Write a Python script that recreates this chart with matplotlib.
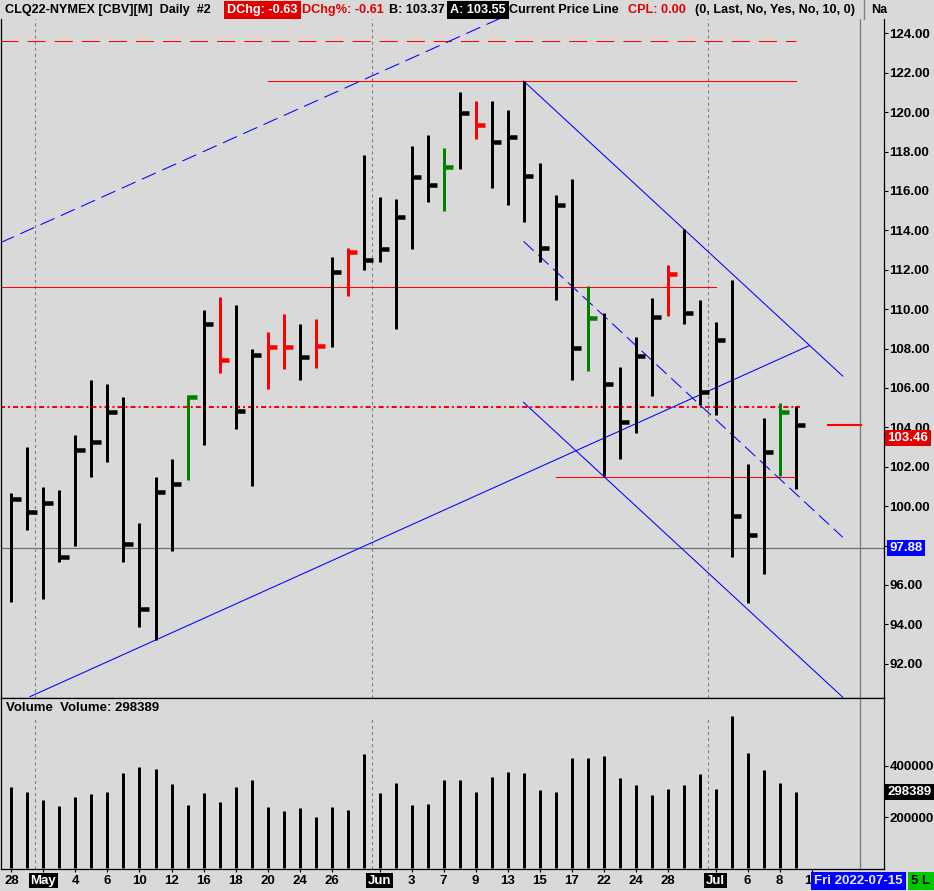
import numpy as np
import matplotlib
matplotlib.use('Agg')
import matplotlib.pyplot as plt
from matplotlib.lines import Line2D

plt.rcParams['font.family'] = ['Liberation Sans', 'DejaVu Sans']
plt.rcParams['font.weight'] = 'bold'
plt.rcParams['lines.scale_dashes'] = False

# daily bars, CLQ22 (high / low / close), 28 Apr .. 11 Jul 2022
highs = [100.65, 102.98, 100.97, 100.82, 103.60, 106.39, 106.18, 105.52, 99.13, 101.48,
         102.38, 105.62, 109.95, 110.61, 110.21, 107.97, 108.84, 109.75, 109.24, 109.50,
         112.64, 113.09, 117.82, 115.69, 115.59, 118.28, 118.84, 118.18, 121.02, 120.56,
         120.56, 120.11, 121.58, 117.42, 115.79, 116.60, 111.17, 109.79, 107.06, 108.58,
         110.56, 112.24, 114.08, 110.46, 109.33, 111.48, 102.12, 104.47, 105.23, 105.08]
lows = [95.15, 98.80, 95.30, 97.15, 98.00, 101.50, 102.25, 97.15, 93.88, 93.20,
        97.70, 101.34, 103.12, 106.77, 103.90, 101.04, 105.96, 106.97, 106.42, 107.03,
        108.09, 110.68, 112.00, 112.41, 109.00, 113.07, 115.45, 115.00, 117.13, 118.65,
        116.16, 115.30, 114.44, 112.41, 110.48, 106.42, 106.87, 101.51, 102.38, 103.70,
        105.60, 109.66, 109.26, 105.12, 104.61, 97.43, 95.10, 96.57, 101.53, 100.88]
closes = [100.35, 99.68, 100.14, 97.40, 102.83, 103.24, 104.76, 98.08, 94.76, 100.70,
          101.10, 105.54, 109.23, 107.42, 104.81, 107.65, 108.06, 108.06, 107.55, 108.11,
          111.87, 112.88, 112.48, 113.04, 114.66, 116.69, 116.28, 117.21, 119.94, 119.33,
          118.48, 118.74, 116.74, 113.09, 115.27, 108.01, 109.53, 106.18, 104.25, 107.60,
          109.58, 111.77, 109.79, 105.81, 108.42, 99.48, 98.52, 102.73, 104.78, 104.10]
volumes = [319000, 299600, 268500, 245000, 280000, 291800, 299600, 373500, 396900, 389000,
           330700, 249000, 295700, 260700, 319000, 346300, 237400, 221800, 233500, 198400,
           241200, 225700, 447500, 295700, 334600, 249000, 252900, 346300, 346300, 299600,
           358000, 377400, 373500, 307400, 299600, 431900, 431900, 439700, 354100, 326800,
           288000, 311300, 326800, 369600, 311300, 595300, 451400, 385200, 334600, 298389]
green_bars = [11, 27, 36, 48]
red_bars = [13, 16, 17, 19, 21, 29, 41]

date_idx = [0, 2, 4, 6, 8, 10, 12, 14, 16, 18, 20, 23, 25, 27, 29, 31, 33, 35, 37, 39, 41, 44, 46, 48, 50]
date_lbl = ['28', 'May', '4', '6', '10', '12', '16', '18', '20', '24', '26', 'Jun', '3', '7', '9',
            '13', '15', '17', '22', '24', '28', 'Jul', '6', '8', '12']
month_breaks = [1.5, 22.5, 43.5]

# drawn trend lines: (bar0, price0, bar1, price1)
trend_dashed_up = [-0.72, 113.36, 30.6, 124.78]
trend_channel_up = [1.16, 90.33, 49.84, 108.14]
trend_down_top = [32, 121.58, 51.95, 106.60]
trend_down_mid = [32, 113.44, 51.95, 98.42]
trend_down_low = [32, 105.27, 51.95, 90.30]

# horizontal levels: (price, bar from, bar to)
lvl_dashed = [123.61, -0.72, 49.0]
lvl_high = [121.60, 16.0, 49.0]
lvl_mid = [111.10, -0.72, 44.0]
lvl_dashdot = [105.03, -0.72, 49.3]
lvl_low = [101.50, 34.0, 49.1]
lvl_last = [104.10, 51.0, 53.1]
cursor_price = 97.88
last_price = 103.46

BG = '#d9d9d9'
W, H = 934, 891
PX = 0.72  # points per pixel
FS = 9.5

def px_box(x0, y0, x1, y1):
    return [x0 / W, 1 - y1 / H, (x1 - x0) / W, (y1 - y0) / H]

fig = plt.figure(figsize=(W / 100, H / 100), dpi=100, facecolor=BG)
ax = fig.add_axes(px_box(1, 19, 884, 698))
axv = fig.add_axes(px_box(1, 698, 884, 868.5), sharex=ax)

x = np.arange(len(highs))
cols = ['black'] * len(highs)
for i in green_bars:
    cols[i] = '#008000'
for i in red_bars:
    cols[i] = '#ff0000'

# price bars
ax.vlines(x, lows, highs, colors=cols, linewidth=3 * PX, capstyle='butt', zorder=4)
ax.hlines(closes, x, x + 0.62, colors=cols, linewidth=4.5 * PX, capstyle='butt', zorder=4)

# grid / levels
for m in month_breaks:
    ax.axvline(m, color='#808080', lw=0.8, dashes=(2.2, 2.2), zorder=1)
    axv.axvline(m, color='#808080', lw=0.8, dashes=(2.2, 2.2), ymax=0.88, zorder=1)
ax.axvline(53.0, color='#808080', lw=1.0, zorder=1)
axv.axvline(53.0, color='#808080', lw=1.0, zorder=1)
ax.axhline(cursor_price, color='#707070', lw=0.9, zorder=1)

ax.plot(lvl_dashed[1:], [lvl_dashed[0]] * 2, color='red', lw=0.75, dashes=(13, 6.5))
ax.plot(lvl_high[1:], [lvl_high[0]] * 2, color='red', lw=0.75)
ax.plot(lvl_mid[1:], [lvl_mid[0]] * 2, color='red', lw=0.75)
ax.plot(lvl_dashdot[1:], [lvl_dashdot[0]] * 2, color='red', lw=1.5, dashes=(3.6, 2.2, 1.4, 2.2))
ax.plot(lvl_low[1:], [lvl_low[0]] * 2, color='red', lw=0.75)
ax.plot(lvl_last[1:], [lvl_last[0]] * 2, color='red', lw=1.5)

for tl, ls in [(trend_dashed_up, (11, 5)), (trend_channel_up, None), (trend_down_top, None),
               (trend_down_mid, (10, 4.5)), (trend_down_low, None)]:
    ln, = ax.plot([tl[0], tl[2]], [tl[1], tl[3]], color='#0000ff', lw=0.75, zorder=3)
    if ls:
        ln.set_dashes(ls)

ax.set_xlim(-0.656, 54.53)
ax.set_ylim(90.259, 124.726)
ax.set_facecolor(BG)
ax.yaxis.tick_right()
ax.set_yticks(np.arange(92, 125, 2))
ax.yaxis.set_major_formatter('{x:.2f}')
ax.tick_params(axis='y', length=3, width=0.8, pad=1, labelsize=FS)
ax.tick_params(axis='x', bottom=False, labelbottom=False)
ax.spines['top'].set_visible(False)
for s in ['left', 'right', 'bottom']:
    ax.spines[s].set_linewidth(0.9)

ax.text(1.004, last_price, f'{last_price:.2f}', transform=ax.get_yaxis_transform(), color='white',
        fontsize=FS, va='center', ha='left', clip_on=False, zorder=6,
        bbox=dict(facecolor='#e00000', edgecolor='none', pad=1.5))
ax.text(1.006, cursor_price, f'{cursor_price:.2f}', transform=ax.get_yaxis_transform(), color='white',
        fontsize=FS, va='center', ha='left', clip_on=False, zorder=6,
        bbox=dict(facecolor='#0000ff', edgecolor='none', pad=1.5))

# volume panel
axv.vlines(x, 0, volumes, colors='black', linewidth=3 * PX, capstyle='butt')
axv.set_ylim(-900, 665000)
axv.set_facecolor(BG)
axv.yaxis.tick_right()
axv.set_yticks([200000, 400000])
axv.set_yticklabels(['200000', '400000'])
axv.tick_params(axis='y', length=3, width=0.8, pad=1, labelsize=FS)
for s in axv.spines.values():
    s.set_linewidth(0.9)
axv.text(1.004, volumes[-1], str(volumes[-1]), transform=axv.get_yaxis_transform(), color='white',
         fontsize=FS, va='center', ha='left', clip_on=False, zorder=6,
         bbox=dict(facecolor='black', edgecolor='none', pad=1.5))
axv.text(5 / 883, 0.94, 'Volume  Volume: 298389', transform=axv.transAxes, fontsize=FS,
         va='center', ha='left')

axv.set_xticks(date_idx)
axv.set_xticklabels(date_lbl)
axv.tick_params(axis='x', length=2, width=0.8, pad=2.5, labelsize=FS)
for t in axv.get_xticklabels():
    if t.get_text() in ('May', 'Jun', 'Jul'):
        t.set_color('white')
        t.set_bbox(dict(facecolor='black', edgecolor='none', pad=1.2))

fig.text(858.5 / W, 1 - 881 / H, 'Fri 2022-07-15', color='#e8e8ff', fontsize=FS, ha='center',
         va='center', bbox=dict(facecolor='#0000ff', edgecolor='none', pad=2.2), zorder=10)
fig.text(921 / W, 1 - 881 / H, '5 L', color='black', fontsize=FS, ha='center', va='center',
         bbox=dict(facecolor='#00c800', edgecolor='none', pad=2.2), zorder=10)

# header line
header = [(5, 'CLQ22-NYMEX [CBV][M]  Daily  #2', 'black', None),
          (227, 'DChg: -0.63', 'white', '#e00000'),
          (302, 'DChg%: -0.61', '#e00000', None),
          (389, 'B: 103.37', 'black', None),
          (450, 'A: 103.55', 'white', 'black'),
          (509, 'Current Price Line', 'black', None),
          (628, 'CPL: 0.00', '#e00000', None),
          (695, '(0, Last, No, Yes, No, 10, 0)', 'black', None),
          (871, 'Na', 'black', None)]
for hx, txt, c, bc in header:
    kw = {}
    if bc:
        kw['bbox'] = dict(facecolor=bc, edgecolor='none', pad=2.2)
    fig.text(hx / W, 1 - 10 / H, txt, color=c, fontsize=9.1, ha='left', va='center', zorder=10, **kw)
fig.add_artist(Line2D([864 / W, 864 / W], [1 - 19 / H, 1], color='#808080', lw=1.0))

fig.savefig('out.png', dpi=100, facecolor=BG)
